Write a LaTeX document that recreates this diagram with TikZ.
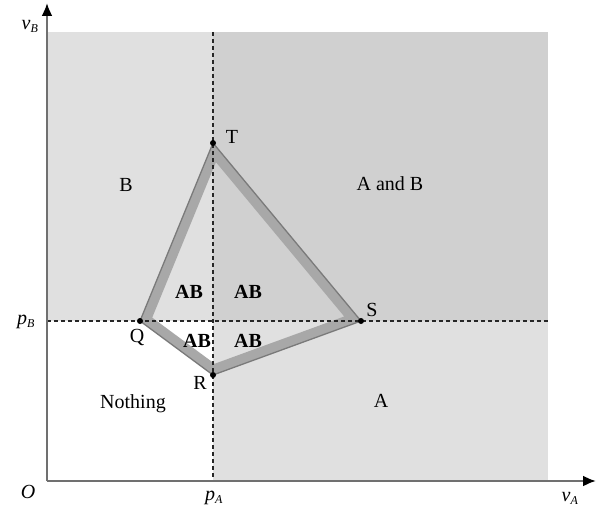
\documentclass[tikz,border=0pt]{standalone}
\usepackage{fontspec}
\setmainfont{Liberation Serif}
\usetikzlibrary{arrows.meta}
\definecolor{lightg}{HTML}{E0E0E0}
\definecolor{darkg}{HTML}{D0D0D0}
\definecolor{bandg}{HTML}{A8A8A8}
\definecolor{edgeg}{HTML}{7A7A7A}
\definecolor{axisg}{HTML}{707070}
\tikzset{
  lbl/.style={font=\fontsize{20}{22}\selectfont, inner sep=0pt},
  ablbl/.style={font=\fontsize{20}{22}\selectfont\bfseries, inner sep=0pt},
  axlbl/.style={font=\fontsize{20}{22}\selectfont\itshape, inner sep=0pt},
  guide/.style={dash pattern=on 4pt off 3pt, line width=1.3pt, black!85},
  axis/.style={line width=2.2pt, axisg, -{Latex[length=13pt,width=11pt,black]}},
  dotpt/.style={circle, fill=black, inner sep=0pt, minimum size=6pt}
}
\begin{document}
\begin{tikzpicture}[x=1pt,y=-1pt]
\useasboundingbox (0,0) rectangle (597,511);
% regions
\fill[lightg] (47,32) rectangle (548,481);
\fill[white] (47,321) rectangle (213,481);
\fill[darkg] (213,32) rectangle (548,321);
% polygon points
\coordinate (Q) at (140,321);
\coordinate (T) at (213,143);
\coordinate (S) at (361,321);
\coordinate (R) at (213,375);
% band inside polygon
\begin{scope}
  \clip (Q) -- (T) -- (S) -- (R) -- cycle;
  \draw[bandg, line width=20pt, line join=miter] (Q) -- (T) -- (S) -- (R) -- cycle;
\end{scope}
\draw[edgeg, line width=1.3pt, line join=miter] (Q) -- (T) -- (S) -- (R) -- cycle;
% guides
\coordinate (gv1) at (213,32);
\coordinate (gv2) at (213,481);
\coordinate (gh1) at (47,321);
\coordinate (gh2) at (548,321);
\draw[guide] (gv1) -- (gv2);
\draw[guide] (gh1) -- (gh2);
% axes
\coordinate (O) at (47,481);
\coordinate (ytop) at (47,3);
\coordinate (xend) at (596,481);
\draw[axis] (O) -- (ytop);
\draw[axis] (O) -- (xend);
% dots
\node[dotpt] (dQ) at (Q) {};
\node[dotpt] (dT) at (T) {};
\node[dotpt] (dS) at (S) {};
\node[dotpt] (dR) at (R) {};
% labels
\node[lbl] (lT) at (232,137) {T};
\node[lbl] (lS) at (372,310) {S};
\node[lbl] (lQ) at (137,337) {Q};
\node[lbl] (lR) at (200,383) {R};
\node[lbl] (lB) at (126,185) {B};
\node[lbl] (lAB) at (390,184) {A and B};
\node[lbl] (lN) at (133,404) {Nothing};
\node[lbl] (lA) at (381,401) {A};
\node[ablbl] (ab1) at (189,292) {AB};
\node[ablbl] (ab2) at (248,292) {AB};
\node[ablbl] (ab3) at (197,341) {AB};
\node[ablbl] (ab4) at (248,341) {AB};
\node[axlbl] (vB) at (30,26) {v\textsubscript{\fontsize{12}{13}\selectfont B}};
\node[axlbl] (pB) at (26,322) {p\textsubscript{\fontsize{12}{13}\selectfont B}};
\node[axlbl] (lO) at (28,492) {O};
\node[axlbl] (pA) at (214,498) {p\textsubscript{\fontsize{12}{13}\selectfont A}};
\node[axlbl] (vA) at (570,498) {v\textsubscript{\fontsize{12}{13}\selectfont A}};
\end{tikzpicture}
\end{document}
